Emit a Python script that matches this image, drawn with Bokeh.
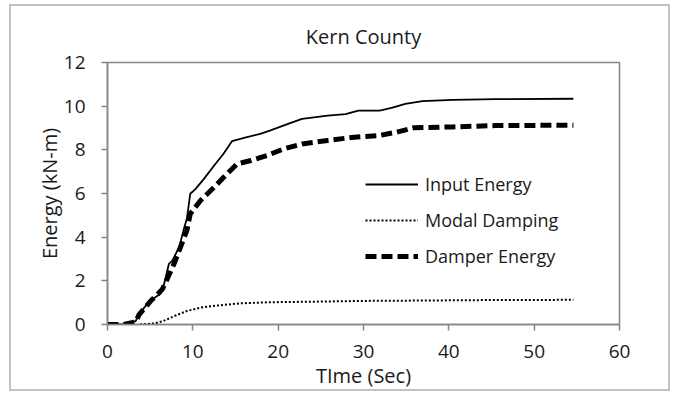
from bokeh.plotting import figure
from bokeh.models import Legend, LegendItem, FixedTicker, Range1d, InlineStyleSheet
from bokeh.embed import file_html
from bokeh.resources import INLINE

# Energy histories (kN-m) against time (s)
t_input = [0, 1.9, 3.3, 3.7, 5.0, 6.2, 6.6, 7.2, 7.6, 8.4, 8.9, 9.3, 9.7, 10.3, 11.3,
           12.5, 13.6, 14.6, 16.0, 17.9, 19.1, 21.4, 22.8, 25.8, 27.9, 29.4, 31.9,
           33.4, 34.9, 36.9, 40.5, 45.5, 54.6]
e_input = [0, 0, 0.15, 0.49, 1.1, 1.4, 1.8, 2.78, 2.93, 3.54, 4.3, 4.84, 5.99, 6.2, 6.67,
           7.28, 7.82, 8.4, 8.55, 8.73, 8.89, 9.22, 9.42, 9.57, 9.64, 9.8, 9.8,
           9.93, 10.1, 10.23, 10.29, 10.32, 10.34]

t_modal = [3.8, 5.5, 6.5, 7.8, 9.3, 10.9, 12.9, 15.6, 19.1, 25.0, 30.0, 38.0, 45.0, 54.6]
e_modal = [0, 0.05, 0.15, 0.38, 0.62, 0.77, 0.87, 0.97, 1.02, 1.05, 1.08, 1.1, 1.12, 1.13]

t_damper = [0, 1.9, 3.3, 3.7, 5.0, 6.4, 6.9, 7.8, 8.55, 9.3, 9.7, 10.9, 12.5, 14.0, 15.2,
            16.8, 18.7, 20.7, 22.8, 25.8, 28.9, 31.9, 33.9, 35.9, 40.5, 45.5, 54.6]
e_damper = [0, 0, 0.12, 0.45, 1.05, 1.6, 2.0, 2.78, 3.54, 4.3, 5.07, 5.68, 6.29, 6.9, 7.36,
            7.51, 7.74, 8.05, 8.27, 8.43, 8.58, 8.66, 8.81, 9.01, 9.05, 9.11, 9.13]

x_ticks = [0, 10, 20, 30, 40, 50, 60]
y_ticks = [0, 2, 4, 6, 8, 10, 12]

FONT = "Open Sans"
GRAY = "#858585"
INK = "#1a1a1a"

p = figure(width=674, height=397, output_backend="svg", toolbar_location=None,
           x_range=Range1d(0, 60), y_range=Range1d(0, 12),
           min_border_left=107, min_border_right=55, min_border_top=62, min_border_bottom=73,
           title="Kern County")

# thin light frame around the whole chart area
p.stylesheets = [InlineStyleSheet(css="""
:host { position: relative; }
:host::after {
  content: ""; position: absolute; left: 9px; top: 4px; width: 661px; height: 387px;
  border: 2px solid #c2c2c2; box-sizing: border-box; pointer-events: none; z-index: 10;
}
""")]

p.title.align = "center"
p.title.text_font = FONT
p.title.text_font_size = "20px"
p.title.text_font_style = "normal"
p.title.text_color = INK
p.title.standoff = 25

p.grid.visible = False
p.outline_line_color = GRAY
p.outline_line_width = 1.5
p.background_fill_color = "white"
p.border_fill_color = "white"

for ax in (p.xaxis[0], p.yaxis[0]):
    ax.axis_line_color = GRAY
    ax.axis_line_width = 1.5
    ax.major_tick_line_color = GRAY
    ax.major_tick_line_width = 1.5
    ax.major_tick_out = 6
    ax.major_tick_in = 0
    ax.minor_tick_line_color = None
    ax.major_label_text_font = FONT
    ax.major_label_text_font_size = "19px"
    ax.major_label_text_color = INK
    ax.axis_label_text_font = FONT
    ax.axis_label_text_font_size = "20px"
    ax.axis_label_text_font_style = "normal"
    ax.axis_label_text_color = INK

p.xaxis[0].ticker = FixedTicker(ticks=x_ticks)
p.yaxis[0].ticker = FixedTicker(ticks=y_ticks)
p.xaxis[0].axis_label = "TIme (Sec)"
p.yaxis[0].axis_label = "Energy (kN-m)"
p.xaxis[0].major_label_standoff = 14
p.yaxis[0].major_label_standoff = 16
p.xaxis[0].axis_label_standoff = 1
p.yaxis[0].axis_label_standoff = -2

r_modal = p.line(t_modal, e_modal, line_color="black", line_width=2, line_dash="2 2")
r_damper = p.line(t_damper, e_damper, line_color="black", line_width=5, line_dash="11 5")
r_input = p.line(t_input, e_input, line_color="black", line_width=1.8)

legend = Legend(items=[
    LegendItem(label="Input Energy", renderers=[r_input]),
    LegendItem(label="Modal Damping", renderers=[r_modal]),
    LegendItem(label="Damper Energy", renderers=[r_damper]),
], location=(258, 56))
legend.background_fill_alpha = 0
legend.border_line_color = None
legend.padding = 0
legend.margin = 0
legend.spacing = 12
legend.glyph_width = 53
legend.glyph_height = 20
legend.label_height = 20
legend.label_standoff = 7
legend.label_text_font = FONT
legend.label_text_font_size = "18px"
legend.label_text_color = INK
p.add_layout(legend, "center")

open("out.html", "w").write(file_html(p, INLINE))
